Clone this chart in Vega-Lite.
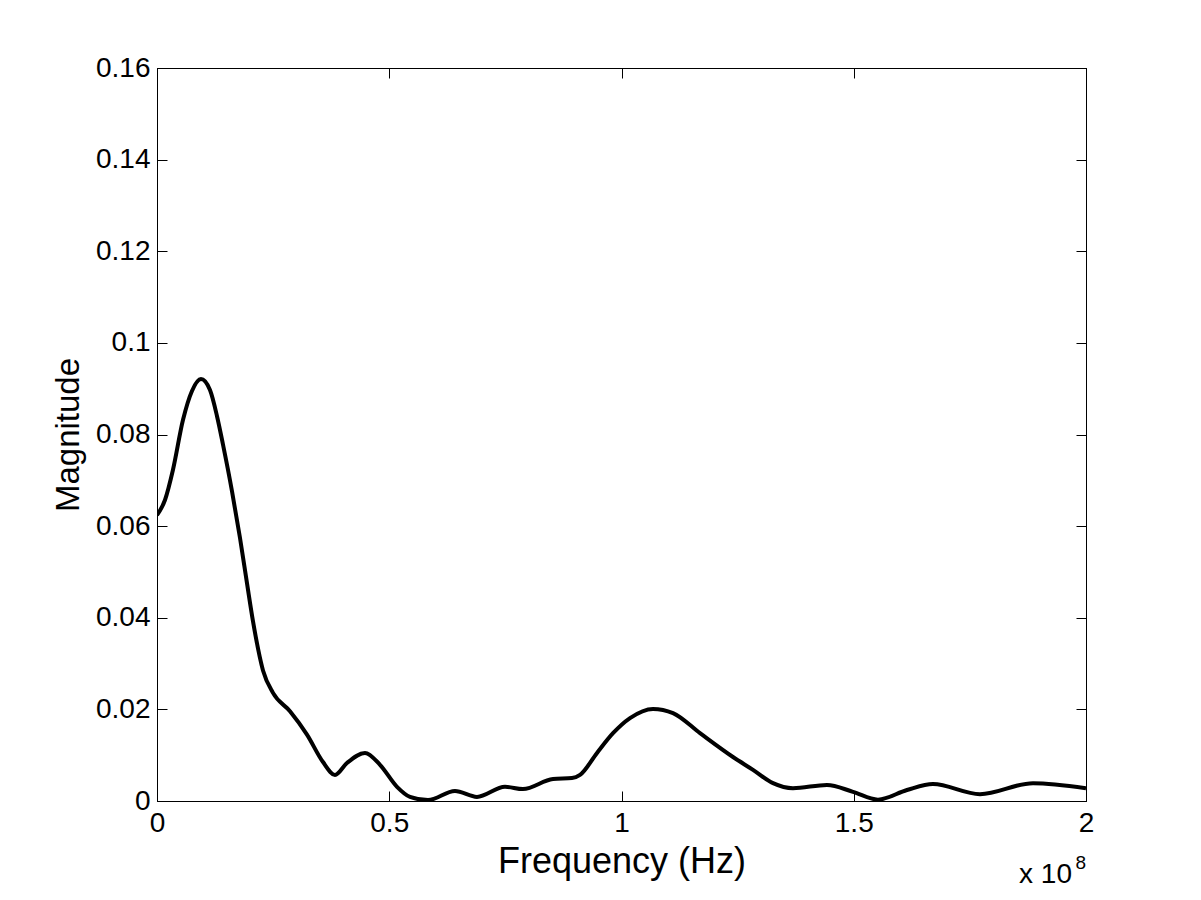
{
  "$schema": "https://vega.github.io/schema/vega-lite/v6.json",
  "width": 929,
  "height": 733,
  "autosize": "none",
  "padding": {"left": 157, "top": 68, "right": 115, "bottom": 99},
  "background": "white",
  "config": {
    "view": {"stroke": "black", "strokeWidth": 1},
    "font": "Liberation Sans",
    "axis": {
      "domainColor": "black",
      "tickColor": "black",
      "labelColor": "black",
      "titleColor": "black",
      "labelFont": "Liberation Sans",
      "titleFont": "Liberation Sans",
      "labelFontSize": 28,
      "titleFontWeight": "normal",
      "labelFlush": false,
      "grid": false,
      "tickSize": -10,
      "ticks": true
    }
  },
  "data": {
    "values": [
      {"f": 0, "m": 0.0624},
      {"f": 1.72e6, "m": 0.0657},
      {"f": 3.44e6, "m": 0.0723},
      {"f": 5.6e6, "m": 0.0832},
      {"f": 7.53e6, "m": 0.0895},
      {"f": 9.47e6, "m": 0.0921},
      {"f": 11.41e6, "m": 0.0897},
      {"f": 12.92e6, "m": 0.0840},
      {"f": 14.21e6, "m": 0.0778},
      {"f": 16.15e6, "m": 0.0676},
      {"f": 17.87e6, "m": 0.0574},
      {"f": 19.38e6, "m": 0.0475},
      {"f": 20.67e6, "m": 0.0392},
      {"f": 22.82e6, "m": 0.0285},
      {"f": 24.97e6, "m": 0.0236},
      {"f": 28.63e6, "m": 0.0196},
      {"f": 32.29e6, "m": 0.0145},
      {"f": 35.74e6, "m": 0.0085},
      {"f": 38.32e6, "m": 0.0057},
      {"f": 40.9e6, "m": 0.0083},
      {"f": 44.78e6, "m": 0.0105},
      {"f": 48.01e6, "m": 0.0079},
      {"f": 51.67e6, "m": 0.0031},
      {"f": 54.47e6, "m": 0.0009},
      {"f": 58.34e6, "m": 0.0002},
      {"f": 64.15e6, "m": 0.0022},
      {"f": 68.89e6, "m": 0.0009},
      {"f": 74.92e6, "m": 0.0031},
      {"f": 78.79e6, "m": 0.0026},
      {"f": 85.25e6, "m": 0.0048},
      {"f": 89.34e6, "m": 0.005},
      {"f": 91.07e6, "m": 0.0057},
      {"f": 94.73e6, "m": 0.0105},
      {"f": 98.17e6, "m": 0.0148},
      {"f": 101.83e6, "m": 0.0181},
      {"f": 106.78e6, "m": 0.0201},
      {"f": 111.09e6, "m": 0.0192},
      {"f": 116.9e6, "m": 0.0148},
      {"f": 124.0e6, "m": 0.0096},
      {"f": 128.31e6, "m": 0.0068},
      {"f": 132.62e6, "m": 0.0039},
      {"f": 136.92e6, "m": 0.0028},
      {"f": 144.24e6, "m": 0.0035},
      {"f": 149.84e6, "m": 0.002},
      {"f": 155.22e6, "m": 0.0003},
      {"f": 161.46e6, "m": 0.0024},
      {"f": 167.06e6, "m": 0.0037},
      {"f": 177.18e6, "m": 0.0015},
      {"f": 188.59e6, "m": 0.0039},
      {"f": 200e6, "m": 0.0028}
    ]
  },
  "layer": [
    {
      "mark": {"type": "line", "color": "black", "strokeWidth": 4, "interpolate": "monotone", "clip": true},
      "encoding": {
        "x": {
          "field": "f", "type": "quantitative",
          "scale": {"domain": [0, 200000000], "nice": false},
          "axis": {
            "orient": "bottom",
            "title": "Frequency (Hz)",
            "titleFontSize": 36,
            "values": [0, 50000000, 100000000, 150000000, 200000000],
            "labelExpr": "'' + (datum.value / 100000000)",
            "labelPadding": 18,
            "titlePadding": 7
          }
        },
        "y": {
          "field": "m", "type": "quantitative",
          "scale": {"domain": [0, 0.16], "nice": false},
          "axis": {
            "orient": "left",
            "title": "Magnitude",
            "titleFontSize": 33,
            "values": [0, 0.02, 0.04, 0.06, 0.08, 0.1, 0.12, 0.14, 0.16],
            "labelExpr": "'' + datum.value",
            "labelPadding": 17,
            "titlePadding": 10
          }
        }
      }
    },
    {
      "mark": {"type": "line", "opacity": 0},
      "encoding": {
        "x": {"field": "f", "type": "quantitative", "axis": {"orient": "top", "labels": false, "title": null, "values": [0, 50000000, 100000000, 150000000, 200000000]}},
        "y": {"field": "m", "type": "quantitative", "axis": {"orient": "right", "labels": false, "title": null, "values": [0, 0.02, 0.04, 0.06, 0.08, 0.1, 0.12, 0.14, 0.16]}}
      }
    },
    {
      "data": {"values": [{"label": "x 10"}]},
      "mark": {"type": "text", "align": "right", "baseline": "alphabetic", "fontSize": 28, "font": "Liberation Sans", "color": "black", "dy": 82, "dx": -14},
      "encoding": {"text": {"field": "label"}, "x": {"datum": 200000000, "type": "quantitative", "axis": null}, "y": {"datum": 0, "type": "quantitative", "axis": null}}
    },
    {
      "data": {"values": [{"label": "8"}]},
      "mark": {"type": "text", "align": "right", "baseline": "alphabetic", "fontSize": 19, "font": "Liberation Sans", "color": "black", "dy": 68, "dx": 0},
      "encoding": {"text": {"field": "label"}, "x": {"datum": 200000000, "type": "quantitative", "axis": null}, "y": {"datum": 0, "type": "quantitative", "axis": null}}
    }
  ],
  "resolve": {"axis": {"x": "independent", "y": "independent"}}
}
